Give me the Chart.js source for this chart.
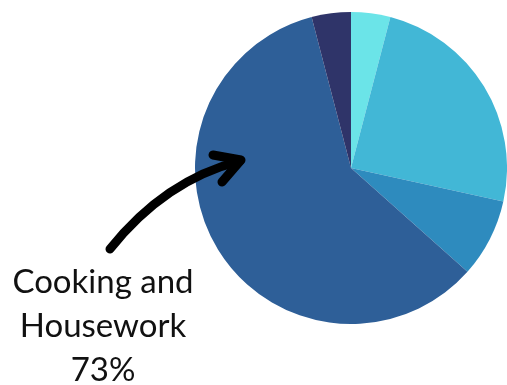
<!DOCTYPE html>
<html>
<head>
<meta charset="utf-8">
<script src="https://cdn.jsdelivr.net/npm/chart.js@4"></script>
<style>
  html, body { margin: 0; padding: 0; background: #ffffff; }
  #wrap { position: relative; width: 507px; height: 385px; }
  #note {
    position: absolute; left: 0px; top: 258px; width: 206px;
    text-align: center; font-family: Lato, sans-serif; font-size: 33px;
    line-height: 44px; color: #111111;
  }
</style>
</head>
<body>
<div id="wrap">
  <canvas id="chart" width="507" height="385"></canvas>
  <div id="note">Cooking and<br>Housework<br>73%</div>
</div>
<script>
// time shares, clockwise from 12 o'clock
var labels = ['', '', '', 'Cooking and Housework', ''];
var values = [5, 30, 10, 73, 5];
var colors = ['#6be4e8', '#42b7d6', '#2e8bbe', '#2e5f98', '#2f3469'];

// hand drawn style arrow pointing at the big slice
var arrowPlugin = {
    id: 'arrow',
    afterDraw: function(chart){
        var ctx = chart.ctx;
        ctx.save();
        ctx.strokeStyle = '#000000';
        ctx.lineWidth = 9;
        ctx.lineCap = 'round';
        ctx.lineJoin = 'round';
        ctx.beginPath();
        ctx.moveTo(110, 249);
        ctx.quadraticCurveTo(165, 180, 240, 161);
        ctx.stroke();
        ctx.beginPath();
        ctx.moveTo(213, 155);
        ctx.lineTo(241, 160);
        ctx.lineTo(222, 182);
        ctx.stroke();
        ctx.restore();
    }
};

new Chart(document.getElementById('chart'), {
    type: 'pie',
    data: {
        labels: labels,
        datasets: [{
            data: values,
            backgroundColor: colors,
            borderWidth: 0
        }]
    },
    options: {
        responsive: false,
        animation: false,
        layout: { padding: { left: 195, right: 0, top: 12, bottom: 61 } },
        plugins: {
            legend: { display: false },
            tooltip: { enabled: false }
        }
    },
    plugins: [arrowPlugin]
});
</script>
</body>
</html>
